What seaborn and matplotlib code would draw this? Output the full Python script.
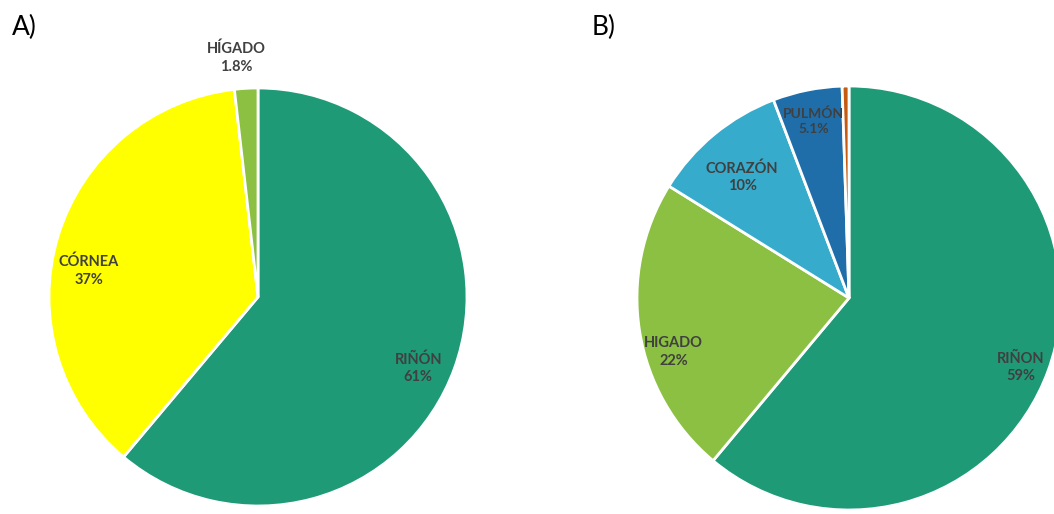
import numpy as np
import matplotlib
matplotlib.use("Agg")
import matplotlib.pyplot as plt
import seaborn as sns

# Panel A: organ share of transplants
organs_a = ["RIÑÓN", "CÓRNEA", "HÍGADO"]
share_a = [61, 37, 1.8]
pct_a = ["61%", "37%", "1.8%"]

# Panel B: organ share of transplants
organs_b = ["RIÑON", "HIGADO", "CORAZÓN", "PULMÓN", ""]
share_b = [59, 22, 10, 5.1, 0.5]
pct_b = ["59%", "22%", "10%", "5.1%", ""]

colors_a = ["#1f9a77", "#ffff00", "#8bc043"]
colors_b = ["#1f9a77", "#8bc043", "#36abcc", "#1f6eaa", "#c55a11"]

sns.set_theme(style="white")
plt.rcParams["font.family"] = ["Lato", "DejaVu Sans"]

W, H = 1054, 514
fig = plt.figure(figsize=(W / 100, H / 100), dpi=100)
fig.patch.set_facecolor("white")


def pie_axes(cx, cy, r):
    return fig.add_axes([(cx - r) / W, (H - cy - r) / H, 2 * r / W, 2 * r / H])


def draw_pie(ax, values, colors, names, pcts, dists, nudges, sizes):
    wedges, _ = ax.pie(values, colors=colors, startangle=90, counterclock=False,
                       radius=1, wedgeprops=dict(edgecolor="white", linewidth=2))
    for w, name, pct, d, nd, fs in zip(wedges, names, pcts, dists, nudges, sizes):
        if not name:
            continue
        # labels sit near the wedge's middle angle, nudged clockwise by nd degrees
        ang = np.deg2rad((w.theta1 + w.theta2) / 2 - nd)
        ax.text(d * np.cos(ang), d * np.sin(ang), f"{name}\n{pct}",
                ha="center", va="center", fontsize=fs, fontweight="bold",
                color="#404040", linespacing=1.3)
    ax.set_xlim(-1, 1)
    ax.set_ylim(-1, 1)
    ax.set_aspect("equal")
    ax.axis("off")


ax_a = pie_axes(258, 297, 209)
draw_pie(ax_a, share_a, colors_a, organs_a, pct_a,
         [0.84, 0.82, 1.15], [4, -8, -2], [10.5, 10.5, 10.5])

ax_b = pie_axes(849, 298, 212)
draw_pie(ax_b, share_b, colors_b, organs_b, pct_b,
         [0.875, 0.865, 0.76, 0.85, 0], [2, -8, -2, 0, 0],
         [10.5, 10.5, 10.5, 10, 10.5])

fig.text(12 / W, 1 - 27 / H, "A)", fontsize=19, va="center", ha="left", color="black")
fig.text(592 / W, 1 - 27 / H, "B)", fontsize=19, va="center", ha="left", color="black")

fig.savefig("out.png", dpi=100)
